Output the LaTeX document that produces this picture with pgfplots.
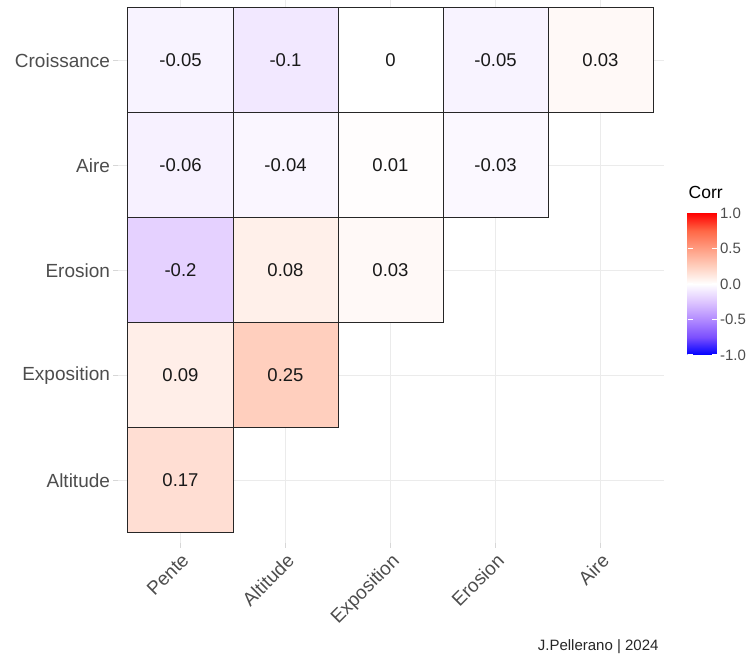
\documentclass[border=0pt]{standalone}
\usepackage{pgfplots}
\pgfplotsset{compat=1.18}
\usepackage{pgfplotstable}
\usepackage{fontspec}
\setmainfont{Liberation Sans}
\definecolor{grey30}{RGB}{77,77,77}
\definecolor{grid92}{RGB}{235,235,235}
\definecolor{tickgrey}{RGB}{215,215,215}
\pgfplotsset{colormap={corr}{rgb255=(0,0,255) rgb255=(123,79,254) rgb255=(178,139,255) rgb255=(222,198,255) rgb255=(255,255,255) rgb255=(255,207,190) rgb255=(255,157,130) rgb255=(255,103,70) rgb255=(255,0,0)}}
\pgfplotstableread{
x y v
1 5 -0.05
2 5 -0.1
3 5 0
4 5 -0.05
5 5 0.03
1 4 -0.06
2 4 -0.04
3 4 0.01
4 4 -0.03
1 3 -0.2
2 3 0.08
3 3 0.03
1 2 0.09
2 2 0.25
1 1 0.17
}\cells
\begin{document}
\begin{tikzpicture}
\path[use as bounding box] (0pt,0pt) rectangle (754pt,655pt);
\begin{axis}[
  at={(117.5pt,111.5pt)}, anchor=south west,
  scale only axis, width=546pt, height=543.5pt,
  xmin=0.4, xmax=5.6, ymin=0.4, ymax=5.5762,
  xtick={1,2,3,4,5}, ytick={1,2,3,4,5},
  xticklabels={Pente,Altitude,Exposition,Erosion,Aire},
  yticklabels={Altitude,Exposition,Erosion,Aire,Croissance},
  grid=major, major grid style={color=grid92, line width=1pt},
  axis line style={draw=none},
  tick align=outside, major tick length=4pt,
  tick style={color=tickgrey, line width=1pt},
  xtick pos=left, ytick pos=left,
  tick label style={font=\fontsize{19}{22}\selectfont, text=grey30},
  xticklabel style={rotate=45, anchor=north east},
  point meta min=-1, point meta max=1, colormap name=corr,
  clip=false,
  colorbar,
  colorbar/width=29pt,
  colorbar style={
    at={(parent axis.north east)}, anchor=north west,
    xshift=15.5pt, yshift=-213pt,
    width=29pt, height=142pt,
    ymin=-1, ymax=1,
    ytick={-1,-0.5,0,0.5,1},
    yticklabel pos=right,
    yticklabel style={font=\fontsize{15}{17}\selectfont, text=grey30,
      /pgf/number format/.cd, fixed, fixed zerofill, precision=1, assume math mode=true},
    axis line style={draw=none},
    tick align=inside, major tick length=5pt,
    tick style={color=white, line width=1pt},
    tick pos=both,
    title={Corr},
    title style={at={(0,1)}, anchor=south west, inner sep=0pt, yshift=8pt, xshift=1pt,
      font=\fontsize{17.5}{20}\selectfont, text=black},
  },
]
\addplot[scatter, only marks, mark=square*, mark size=52.5pt,
  scatter/use mapped color={draw=black!85, fill=mapped color, line width=1pt},
  point meta=explicit]
  table[x=x, y=y, meta=v] {\cells};
\addplot[only marks, mark=none, nodes near coords, point meta=explicit symbolic,
  nodes near coords style={anchor=center, font=\fontsize{18.5}{21}\selectfont, text=black!90}]
  table[x=x, y=y, meta=v] {\cells};
\end{axis}
\node[anchor=base east, font=\fontsize{15}{18}\selectfont, text=black!85] at (662pt,5pt) {J.Pellerano | 2024};
\end{tikzpicture}
\end{document}
